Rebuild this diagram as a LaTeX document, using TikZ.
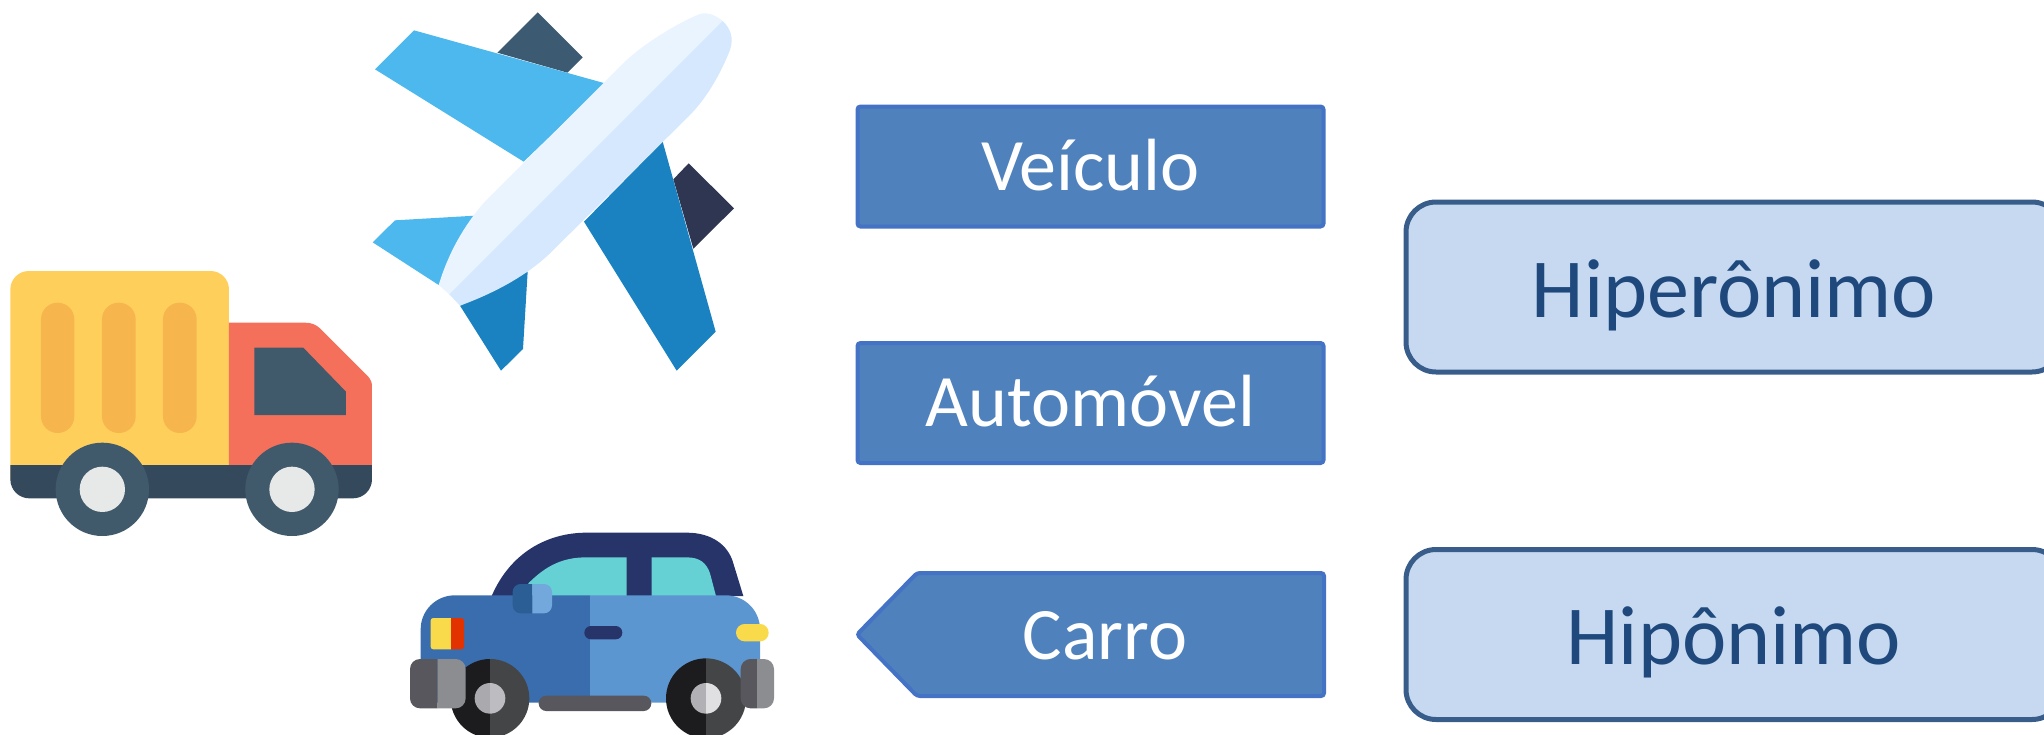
\documentclass[tikz,border=0pt]{standalone}
\usepackage{fontspec}
\setmainfont{Carlito}
\definecolor{bluefill}{HTML}{4F81BD}
\definecolor{blueline}{HTML}{4472C4}
\definecolor{palefill}{HTML}{C6D9F1}
\definecolor{paleline}{HTML}{385D8A}
\definecolor{paletext}{HTML}{1F497D}
\definecolor{trYellow}{HTML}{FFCF5C}
\definecolor{trSlat}{HTML}{F6B64D}
\definecolor{trRed}{HTML}{F5705A}
\definecolor{trWin}{HTML}{415A6B}
\definecolor{trBase}{HTML}{35495C}
\definecolor{trHub}{HTML}{E7E9E9}
\definecolor{plEngA}{HTML}{3C5A72}
\definecolor{plEngB}{HTML}{2E3652}
\definecolor{plWingA}{HTML}{4CB8EE}
\definecolor{plWingB}{HTML}{1A82C0}
\definecolor{plBodyA}{HTML}{EAF4FF}
\definecolor{plBodyB}{HTML}{D5E8FD}
\definecolor{caNavy}{HTML}{27346A}
\definecolor{caCyan}{HTML}{65D1D5}
\definecolor{caBlueA}{HTML}{3A6DAE}
\definecolor{caBlueB}{HTML}{5C96D0}
\definecolor{caMirA}{HTML}{2C5E96}
\definecolor{caMirB}{HTML}{72A8DC}
\definecolor{caYel}{HTML}{F8DA4A}
\definecolor{caRed}{HTML}{E23200}
\definecolor{caGrA}{HTML}{58575D}
\definecolor{caGrB}{HTML}{8C8D91}
\definecolor{caTyA}{HTML}{1C1C1E}
\definecolor{caTyB}{HTML}{444547}
\tikzset{
  bluebox/.style={shape=rectangle,draw=blueline,fill=bluefill,line width=2pt,rounded corners=1.5pt,
    minimum width=233pt,minimum height=60pt,inner sep=0pt,text=white,font=\fontsize{37}{44}\selectfont,
    text height=23.5pt,text depth=0pt,anchor=center},
  palebox/.style={shape=rectangle,draw=paleline,fill=palefill,line width=2.5pt,rounded corners=15pt,
    minimum width=328pt,minimum height=85pt,inner sep=0pt,text=paletext,font=\fontsize{42}{50}\selectfont,
    text height=30pt,text depth=0pt,anchor=center},
  bluetext/.style={text=white,font=\fontsize{37}{44}\selectfont,inner sep=0pt},
  zoomed/.style={scale=1/3}
}
\begin{document}
\begin{tikzpicture}[x=0.5pt,y=-0.5pt]
\useasboundingbox (0,0) rectangle (2044,734);
\clip (0,0) rectangle (2044,734);
% truck
\begin{scope}[shift={(0,240)},zoomed]
\fill[trYellow] (31,720) [rounded corners=9.2pt] -- (31,93) -- (687,93) [sharp corners] -- (687,720) -- cycle;
\foreach \xa/\xb in {123/223,306/407,489/590}
  \fill[trSlat,rounded corners=8.3pt] (\xa,188) rectangle (\xb,579);
\fill[trRed] (687,248) -- (915,248) .. controls (935,248) and (948,254) .. (960,265) -- (1105,410) .. controls (1113,420) and (1116,428) .. (1116,440) -- (1116,720) -- (687,720) -- cycle;
\fill[trWin] (763,323) -- (910,323) -- (1038,455) -- (1038,525) -- (763,525) -- cycle;
\fill[trBase] (31,675) -- (1116,675) [rounded corners=9.5pt] -- (1116,775) -- (31,775) [sharp corners] -- cycle;
\foreach \cx in {307,876}{
  \fill[trWin] (\cx,748) circle[radius=140];
  \fill[trHub] (\cx,748) circle[radius=68];
}
\end{scope}
% plane
\begin{scope}[shift={(360,0)},zoomed]
\fill[plEngA] (412,158) -- (533,37) -- (668,172) -- (622,218) -- cycle;
\fill[plEngB] (940,538) -- (986,490) -- (1122,625) -- (1000,746) -- cycle;
\fill[plWingA] (162,91) -- (735,250) -- (491,485) -- (45,208) -- cycle;
\fill[plWingA] (105,661) -- (345,647) -- (236,855) -- (38,727) -- cycle;
\fill[plWingB] (908,425) -- (1067,995) -- (950,1112) -- (672,665) -- cycle;
\fill[plWingB] (503,815) -- (489,1047) -- (423,1112) -- (300,917) -- cycle;
\fill[plBodyA] (236,855) .. controls (265,760) and (310,680) .. (370,610) -- (800,180) .. controls (860,125) and (960,65) .. (1020,42) .. controls (1045,35) and (1070,48) .. (1088,63) -- (268,883) -- cycle;
\fill[plBodyB] (1088,63) .. controls (1112,85) and (1122,115) .. (1110,150) .. controls (1080,225) and (1040,295) .. (985,350) -- (590,740) .. controls (510,825) and (400,880) .. (300,917) -- (268,883) -- cycle;
\end{scope}
% car
\begin{scope}[shift={(400,520)},zoomed]
\fill[caNavy] (275,228) .. controls (330,100) and (440,38) .. (560,38) -- (860,38) .. controls (935,38) and (985,75) .. (1000,130) -- (1030,228) -- cycle;
\fill[caCyan] (385,190) .. controls (440,135) and (490,112) .. (560,112) -- (680,112) -- (680,228) -- (385,228) -- cycle;
\fill[caCyan] (755,112) -- (860,112) .. controls (900,112) and (920,130) .. (930,160) -- (948,228) -- (755,228) -- cycle;
\fill[caBlueA] (62,548) [rounded corners=17pt] -- (62,226) [sharp corners] -- (570,226) -- (570,548) -- cycle;
\fill[caBlueB] (570,226) [rounded corners=17pt] -- (1080,226) [sharp corners] -- (1080,548) -- (570,548) -- cycle;
\begin{scope}
\clip (338,192) rectangle (397,280);
\fill[caMirA,rounded corners=4pt] (338,192) rectangle (456,280);
\end{scope}
\begin{scope}
\clip (397,192) rectangle (456,280);
\fill[caMirB,rounded corners=4pt] (338,192) rectangle (456,280);
\end{scope}
\begin{scope}
\clip (92,294) rectangle (153,388);
\fill[caYel,rounded corners=1.3pt] (92,294) rectangle (192,388);
\end{scope}
\begin{scope}
\clip (153,294) rectangle (192,388);
\fill[caRed,rounded corners=1.3pt] (92,294) rectangle (192,388);
\end{scope}
\fill[caNavy,rounded corners=3.3pt] (553,318) rectangle (667,358);
\fill[caYel,rounded corners=4.3pt] (1008,312) rectangle (1106,364);
\foreach \cx/\cy/\r/\hr/\hA/\hB in {270/535/118/46/A9A9AE/BCBCC1,918/535/120/46/B0B0B5/E0E0E2}{
  \definecolor{hubA}{HTML}{\hA}\definecolor{hubB}{HTML}{\hB}
  \begin{scope}
  \clip (\cx-200,300) rectangle (\cx,800);
  \fill[caTyA] (\cx,\cy) circle[radius=\r];
  \fill[hubA] (\cx,\cy) circle[radius=\hr];
  \end{scope}
  \begin{scope}
  \clip (\cx,300) rectangle (\cx+200,800);
  \fill[caTyB] (\cx,\cy) circle[radius=\r];
  \fill[hubB] (\cx,\cy) circle[radius=\hr];
  \end{scope}
}
\foreach \xa/\xs/\xb in {30/113/197,1022/1071/1122}{
  \begin{scope}
  \clip (\xa,417) rectangle (\xs,565);
  \fill[caGrA,rounded corners=5pt] (\xa,417) rectangle (\xb,565);
  \end{scope}
  \begin{scope}
  \clip (\xs,417) rectangle (\xb,565);
  \fill[caGrB,rounded corners=5pt] (\xa,417) rectangle (\xb,565);
  \end{scope}
}
\fill[caGrA,rounded corners=3.8pt] (416,527) rectangle (754,573);
\end{scope}
% labels
\node[bluebox] (veiculo) at (1090.5,166.5) {Veículo};
\node[bluebox] (automovel) at (1090.5,403) {Automóvel};
\path[draw=blueline,fill=bluefill,line width=2pt,rounded corners=1.5pt] (917,573) -- (1324,573) -- (1324,696) -- (917,696) -- (857,634.5) -- cycle;
\node[bluetext,anchor=base] (carro) at (1105,659) {Carro};
\node[palebox] (hiper) at (1734,287) {Hiperônimo};
\node[palebox] (hipo) at (1734,634.5) {Hipônimo};
\end{tikzpicture}
\end{document}
